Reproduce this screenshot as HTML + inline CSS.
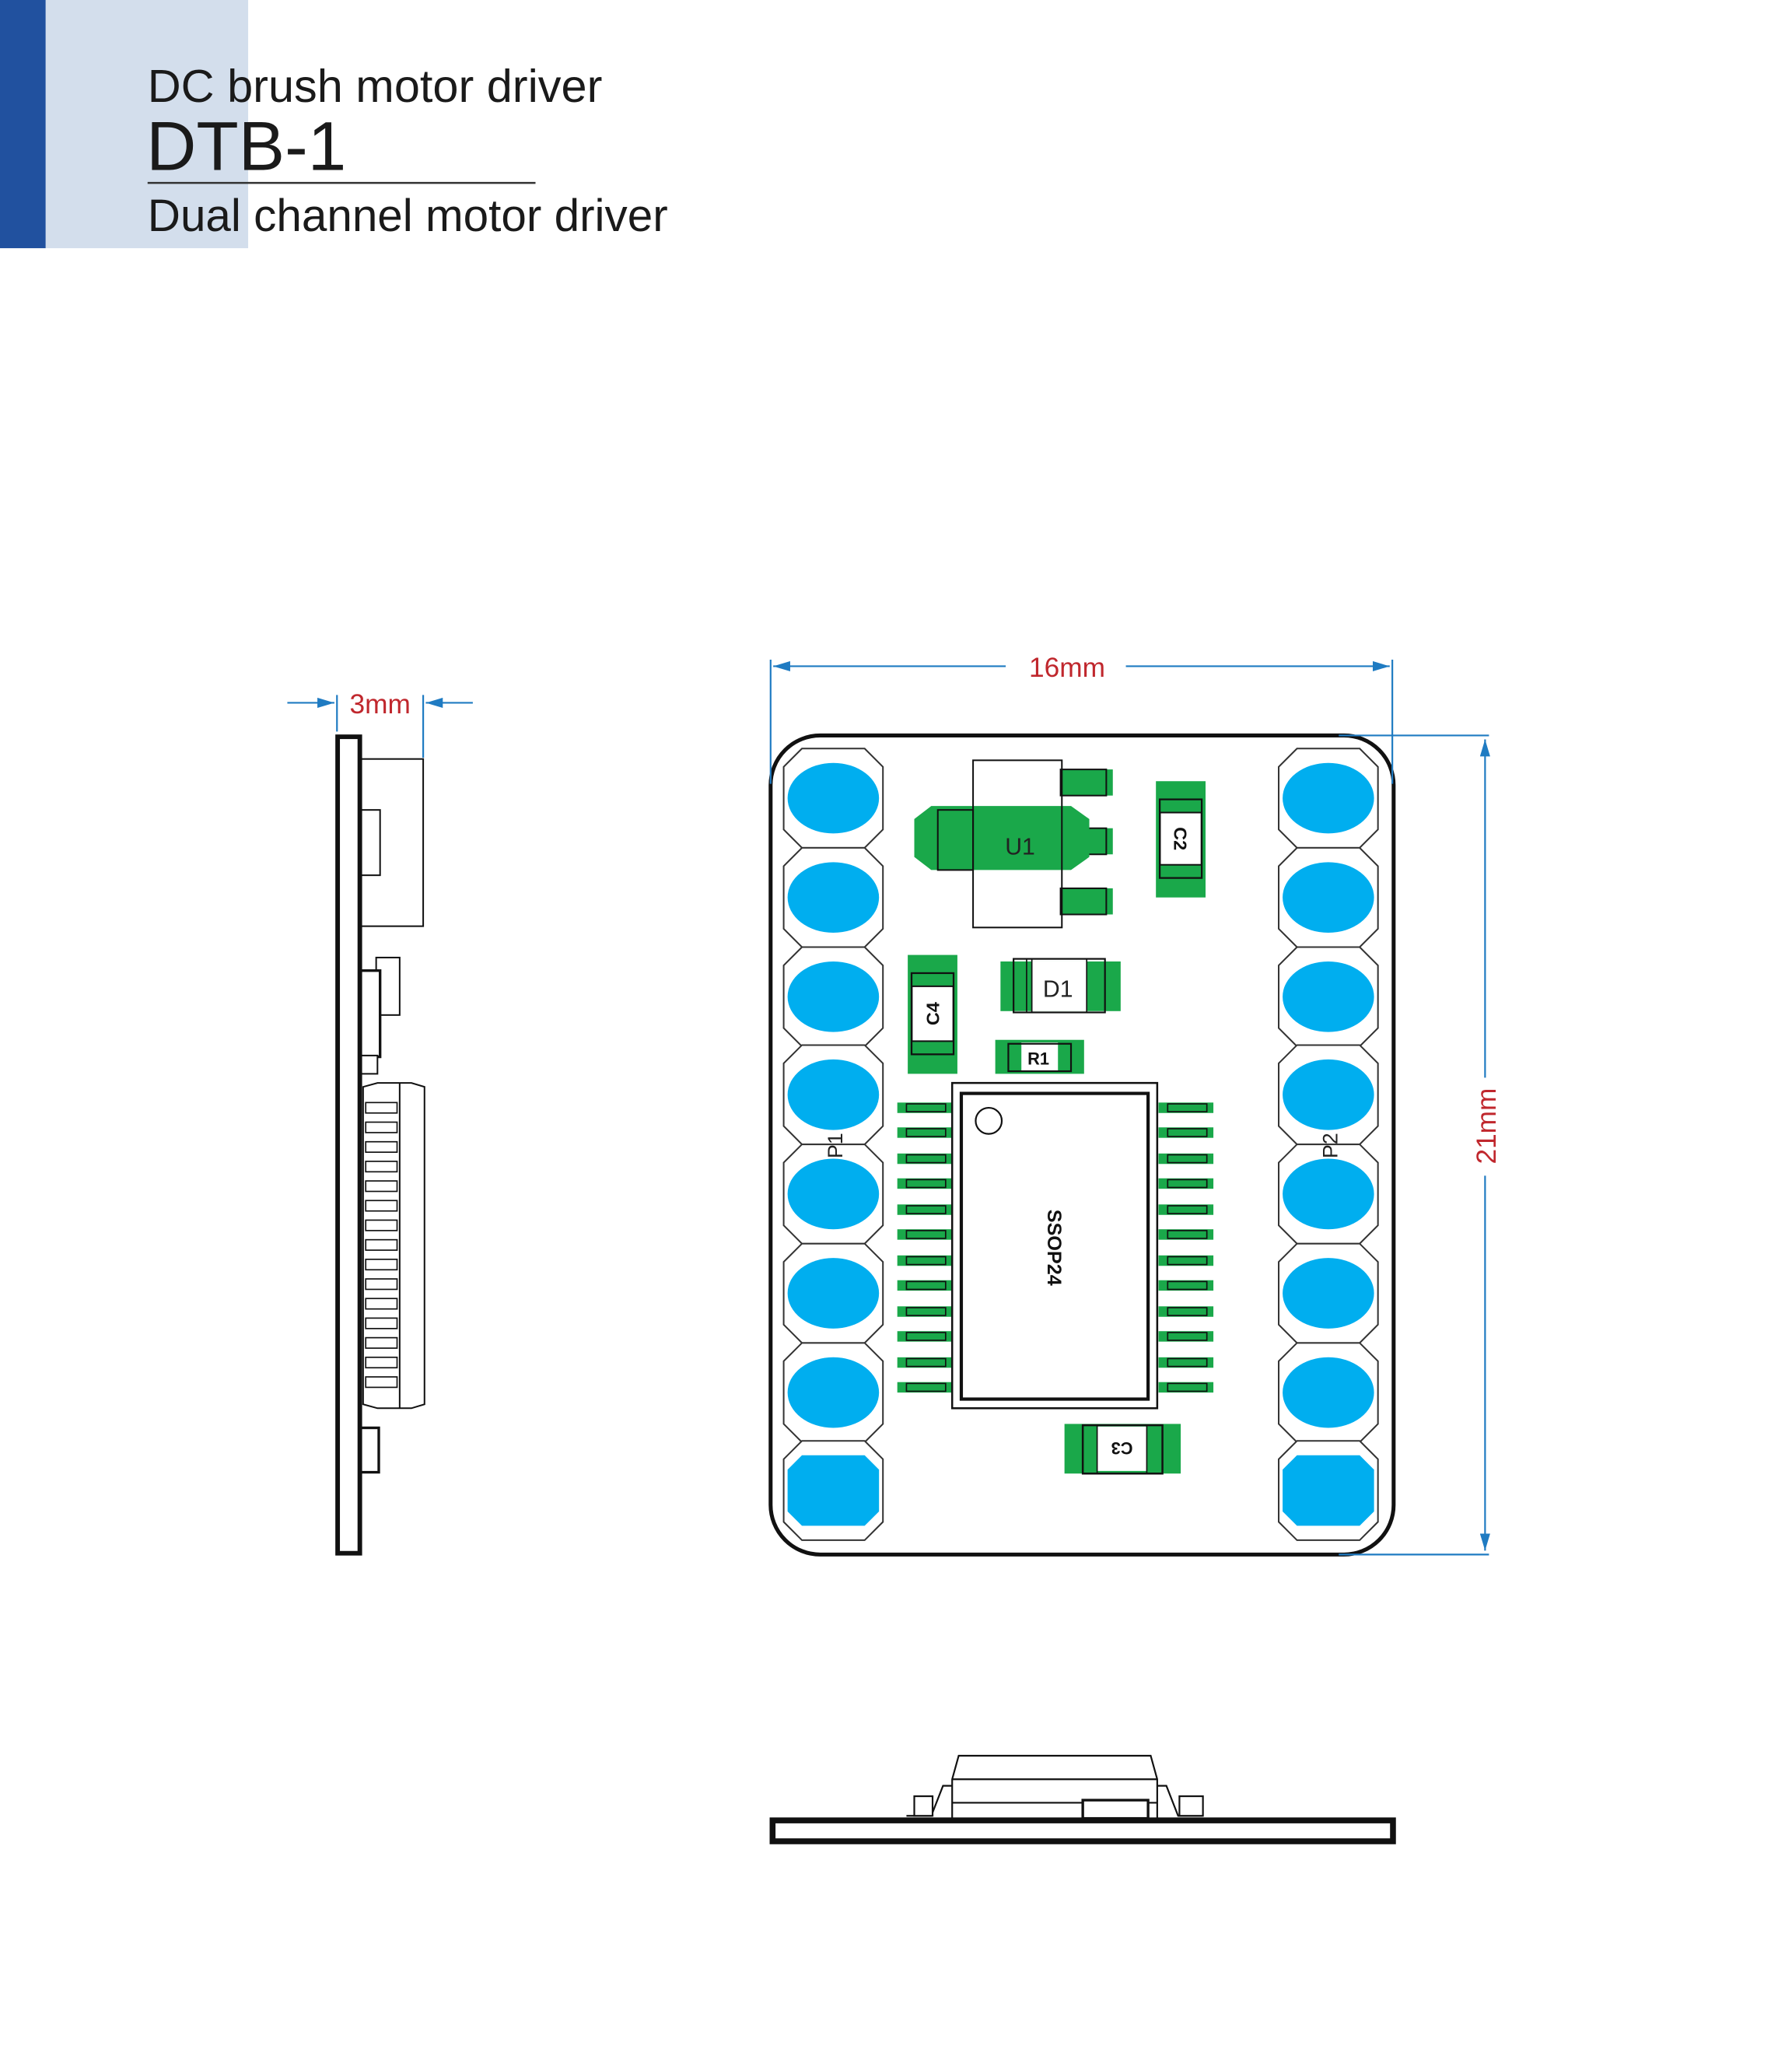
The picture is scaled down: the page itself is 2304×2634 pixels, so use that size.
<!DOCTYPE html>
<html><head><meta charset="utf-8"><style>
html,body{margin:0;padding:0;background:#fff;}
svg{display:block;}
</style></head><body>
<svg width="2304" height="2634" viewBox="0 0 1372 1568.5" preserveAspectRatio="none" xmlns="http://www.w3.org/2000/svg" font-family="Liberation Sans, sans-serif">
<defs>
<polygon id="oct" points="-24,-38 24,-38 38,-24 38,24 24,38 -24,38 -38,24 -38,-24" fill="#fff" stroke="#333" stroke-width="1.2"/>
<ellipse id="blob" cx="0" cy="0" rx="35" ry="27" fill="#00aeef"/>
<g id="lead"><rect x="-21" y="-4" width="42" height="8" fill="#1aa84a"/><rect x="-14" y="-3" width="30" height="6" fill="none" stroke="#111" stroke-width="1"/></g>
<marker id="ar" markerWidth="10" markerHeight="6" refX="10" refY="3" orient="auto"><path d="M0,0 L10,3 L0,6z" fill="#1f7bc2"/></marker>
</defs>
<!-- header -->
<rect x="0" y="0" width="35" height="190" fill="#21519f"/>
<rect x="35" y="0" width="155" height="190" fill="#d3deec"/>
<text x="113" y="78" font-size="35.4" fill="#1a1a1a">DC brush motor driver</text>
<text x="112" y="130" font-size="53" fill="#1a1a1a">DTB-1</text>
<line x1="113" y1="140" x2="410" y2="140" stroke="#333" stroke-width="1.5"/>
<text x="113" y="177" font-size="34.8" fill="#1a1a1a">Dual channel motor driver</text>

<!-- board top view -->
<rect x="590" y="563" width="477" height="627" rx="38" fill="#fff" stroke="#111" stroke-width="3"/>
<!-- dims -->
<g stroke="#1f7bc2" stroke-width="1.3" fill="none">
<line x1="590" y1="505" x2="590" y2="600"/><line x1="1066" y1="505" x2="1066" y2="600"/>
<line x1="770" y1="510" x2="592" y2="510" marker-end="url(#ar)"/>
<line x1="862" y1="510" x2="1064" y2="510" marker-end="url(#ar)"/>
<line x1="1025" y1="563" x2="1140" y2="563"/><line x1="1025" y1="1190" x2="1140" y2="1190"/>
<line x1="1137" y1="825" x2="1137" y2="566" marker-end="url(#ar)"/>
<line x1="1137" y1="900" x2="1137" y2="1187" marker-end="url(#ar)"/>
<line x1="220" y1="538" x2="256" y2="538" marker-end="url(#ar)"/>
<line x1="362" y1="538" x2="326" y2="538" marker-end="url(#ar)"/>
<line x1="258" y1="532" x2="258" y2="560"/><line x1="324" y1="532" x2="324" y2="580"/>
</g>
<text x="817" y="518" font-size="21" fill="#c0272d" text-anchor="middle">16mm</text>
<text x="291" y="546" font-size="21" fill="#c0272d" text-anchor="middle">3mm</text>
<text transform="translate(1145,862) rotate(-90)" font-size="21" fill="#c0272d" text-anchor="middle">21mm</text>

<!-- pads -->
<g>
<use href="#oct" x="638" y="611"/><use href="#oct" x="638" y="687"/><use href="#oct" x="638" y="763"/><use href="#oct" x="638" y="838"/>
<use href="#oct" x="638" y="914"/><use href="#oct" x="638" y="990"/><use href="#oct" x="638" y="1066"/><use href="#oct" x="638" y="1141"/>
<use href="#oct" x="1017" y="611"/><use href="#oct" x="1017" y="687"/><use href="#oct" x="1017" y="763"/><use href="#oct" x="1017" y="838"/>
<use href="#oct" x="1017" y="914"/><use href="#oct" x="1017" y="990"/><use href="#oct" x="1017" y="1066"/><use href="#oct" x="1017" y="1141"/>
<use href="#blob" x="638" y="611"/><use href="#blob" x="638" y="687"/><use href="#blob" x="638" y="763"/><use href="#blob" x="638" y="838"/>
<use href="#blob" x="638" y="914"/><use href="#blob" x="638" y="990"/><use href="#blob" x="638" y="1066"/>
<polygon points="614,1114 662,1114 673,1125 673,1157 662,1168 614,1168 603,1157 603,1125" fill="#00aeef"/>
<use href="#blob" x="1017" y="611"/><use href="#blob" x="1017" y="687"/><use href="#blob" x="1017" y="763"/><use href="#blob" x="1017" y="838"/>
<use href="#blob" x="1017" y="914"/><use href="#blob" x="1017" y="990"/><use href="#blob" x="1017" y="1066"/>
<polygon points="993,1114 1041,1114 1052,1125 1052,1157 1041,1168 993,1168 982,1157 982,1125" fill="#00aeef"/>
</g>
<text transform="translate(645,877) rotate(-90)" font-size="16" fill="#222" text-anchor="middle">P1</text>
<text transform="translate(1024,877) rotate(-90)" font-size="16" fill="#222" text-anchor="middle">P2</text>

<!-- U1 -->
<rect x="812" y="589" width="40" height="20" fill="#1aa84a"/><rect x="812" y="589" width="35" height="20" fill="none" stroke="#111" stroke-width="1.2"/>
<rect x="812" y="634" width="40" height="20" fill="#1aa84a"/><rect x="812" y="634" width="35" height="20" fill="none" stroke="#111" stroke-width="1.2"/>
<rect x="812" y="680" width="40" height="20" fill="#1aa84a"/><rect x="812" y="680" width="35" height="20" fill="none" stroke="#111" stroke-width="1.2"/>
<path d="M713,617 L820,617 L834,627 L834,656 L820,666 L713,666 L700,656 L700,627 Z" fill="#1aa84a"/>
<rect x="745" y="582" width="68" height="128" fill="none" stroke="#111" stroke-width="1.2"/>
<rect x="718" y="620" width="27" height="46" fill="none" stroke="#111" stroke-width="1.2"/>
<text x="781" y="654" font-size="18" fill="#222" text-anchor="middle">U1</text>
<!-- C top right -->
<rect x="885" y="598" width="38" height="89" fill="#1aa84a"/>
<rect x="888" y="612" width="32" height="60" fill="#fff" stroke="#111" stroke-width="1.5"/>
<rect x="888" y="612" width="32" height="10" fill="#1aa84a" stroke="#111" stroke-width="1.2"/><rect x="888" y="662" width="32" height="10" fill="#1aa84a" stroke="#111" stroke-width="1.2"/>
<text transform="translate(899,642) rotate(90)" font-size="14" font-weight="bold" fill="#111" text-anchor="middle">C2</text>
<!-- C4 -->
<rect x="695" y="731" width="38" height="91" fill="#1aa84a"/>
<rect x="698" y="745" width="32" height="62" fill="#fff" stroke="#111" stroke-width="1.5"/>
<rect x="698" y="745" width="32" height="10" fill="#1aa84a" stroke="#111" stroke-width="1.2"/><rect x="698" y="797" width="32" height="10" fill="#1aa84a" stroke="#111" stroke-width="1.2"/>
<text transform="translate(719,776) rotate(-90)" font-size="14" font-weight="bold" fill="#111" text-anchor="middle">C4</text>
<!-- D1 -->
<rect x="766" y="736" width="92" height="38" fill="#1aa84a"/>
<rect x="790" y="736" width="42" height="38" fill="#fff"/>
<rect x="776" y="734" width="70" height="41" fill="none" stroke="#111" stroke-width="1.3"/>
<line x1="786" y1="734" x2="786" y2="775" stroke="#111"/><line x1="790" y1="734" x2="790" y2="775" stroke="#111"/><line x1="832" y1="734" x2="832" y2="775" stroke="#111"/>
<text x="810" y="763" font-size="18" fill="#222" text-anchor="middle">D1</text>
<!-- R1 -->
<rect x="762" y="796" width="68" height="26" fill="#1aa84a"/>
<rect x="782" y="798" width="28" height="22" fill="#fff"/>
<rect x="772" y="799" width="48" height="21" fill="none" stroke="#111" stroke-width="1.3"/>
<text x="795" y="815" font-size="13" font-weight="bold" fill="#111" text-anchor="middle">R1</text>
<!-- IC -->
<g>
<use href="#lead" x="708" y="848"/><use href="#lead" x="708" y="867"/><use href="#lead" x="708" y="887"/><use href="#lead" x="708" y="906"/>
<use href="#lead" x="708" y="926"/><use href="#lead" x="708" y="945"/><use href="#lead" x="708" y="965"/><use href="#lead" x="708" y="984"/>
<use href="#lead" x="708" y="1004"/><use href="#lead" x="708" y="1023"/><use href="#lead" x="708" y="1043"/><use href="#lead" x="708" y="1062"/>
<use href="#lead" x="908" y="848"/><use href="#lead" x="908" y="867"/><use href="#lead" x="908" y="887"/><use href="#lead" x="908" y="906"/>
<use href="#lead" x="908" y="926"/><use href="#lead" x="908" y="945"/><use href="#lead" x="908" y="965"/><use href="#lead" x="908" y="984"/>
<use href="#lead" x="908" y="1004"/><use href="#lead" x="908" y="1023"/><use href="#lead" x="908" y="1043"/><use href="#lead" x="908" y="1062"/>
</g>
<rect x="729" y="829" width="157" height="249" fill="#fff" stroke="#111" stroke-width="1.5"/>
<rect x="736" y="837" width="143" height="234" fill="none" stroke="#111" stroke-width="2.5"/>
<circle cx="757" cy="858" r="10" fill="none" stroke="#111" stroke-width="1.3"/>
<text transform="translate(802,955) rotate(90)" font-size="15" font-weight="bold" fill="#111" text-anchor="middle">SSOP24</text>
<!-- C3 -->
<rect x="815" y="1090" width="89" height="38" fill="#1aa84a"/>
<rect x="840" y="1092" width="38" height="34" fill="#fff"/>
<rect x="829" y="1091" width="61" height="37" fill="none" stroke="#111" stroke-width="1.5"/>
<line x1="840" y1="1091" x2="840" y2="1128" stroke="#111"/><line x1="878" y1="1091" x2="878" y2="1128" stroke="#111"/>
<text transform="translate(859,1109) rotate(180)" font-size="13" font-weight="bold" fill="#111" text-anchor="middle" dy="5">C3</text>

<!-- side view -->
<g fill="#fff" stroke="#111" stroke-width="1.2">
<rect x="276" y="581" width="48" height="128"/>
<rect x="276" y="620" width="15" height="50"/>
<rect x="288" y="733" width="18" height="44"/>
<rect x="276" y="743" width="15" height="66" stroke-width="2"/>
<rect x="276" y="808" width="13" height="14"/>
<path d="M278,832 L289,829 L315,829 L325,832 L325,1075 L315,1078 L289,1078 L278,1075 Z"/>
<line x1="306" y1="829" x2="306" y2="1078"/>
<rect x="276" y="1093" width="14" height="34" stroke-width="2"/>
</g>
<g fill="#fff" stroke="#111" stroke-width="1">
<rect x="280" y="844" width="24" height="8"/><rect x="280" y="859" width="24" height="8"/><rect x="280" y="874" width="24" height="8"/><rect x="280" y="889" width="24" height="8"/>
<rect x="280" y="904" width="24" height="8"/><rect x="280" y="919" width="24" height="8"/><rect x="280" y="934" width="24" height="8"/><rect x="280" y="949" width="24" height="8"/>
<rect x="280" y="964" width="24" height="8"/><rect x="280" y="979" width="24" height="8"/><rect x="280" y="994" width="24" height="8"/><rect x="280" y="1009" width="24" height="8"/>
<rect x="280" y="1024" width="24" height="8"/><rect x="280" y="1039" width="24" height="8"/><rect x="280" y="1054" width="24" height="8"/>
</g>
<rect x="258.5" y="564" width="17" height="625" fill="#fff" stroke="#111" stroke-width="3.5"/>

<!-- bottom view -->
<g fill="#fff" stroke="#111" stroke-width="1.3">
<path d="M734,1344 L881,1344 L886,1362 L886,1392 L729,1392 L729,1362 Z"/>
<line x1="729" y1="1362" x2="886" y2="1362"/>
<line x1="729" y1="1380" x2="886" y2="1380"/>
<rect x="829" y="1378" width="50" height="14" stroke-width="2"/>
<path d="M729,1367 L722,1367 L713,1390 L694,1390" fill="none"/>
<path d="M886,1367 L893,1367 L902,1390 L921,1390" fill="none"/>
<rect x="700" y="1375" width="14" height="15"/>
<rect x="903" y="1375" width="18" height="15"/>
</g>
<rect x="591.5" y="1393.5" width="475" height="16" fill="#fff" stroke="#111" stroke-width="4.5"/>
</svg>
</body></html>
